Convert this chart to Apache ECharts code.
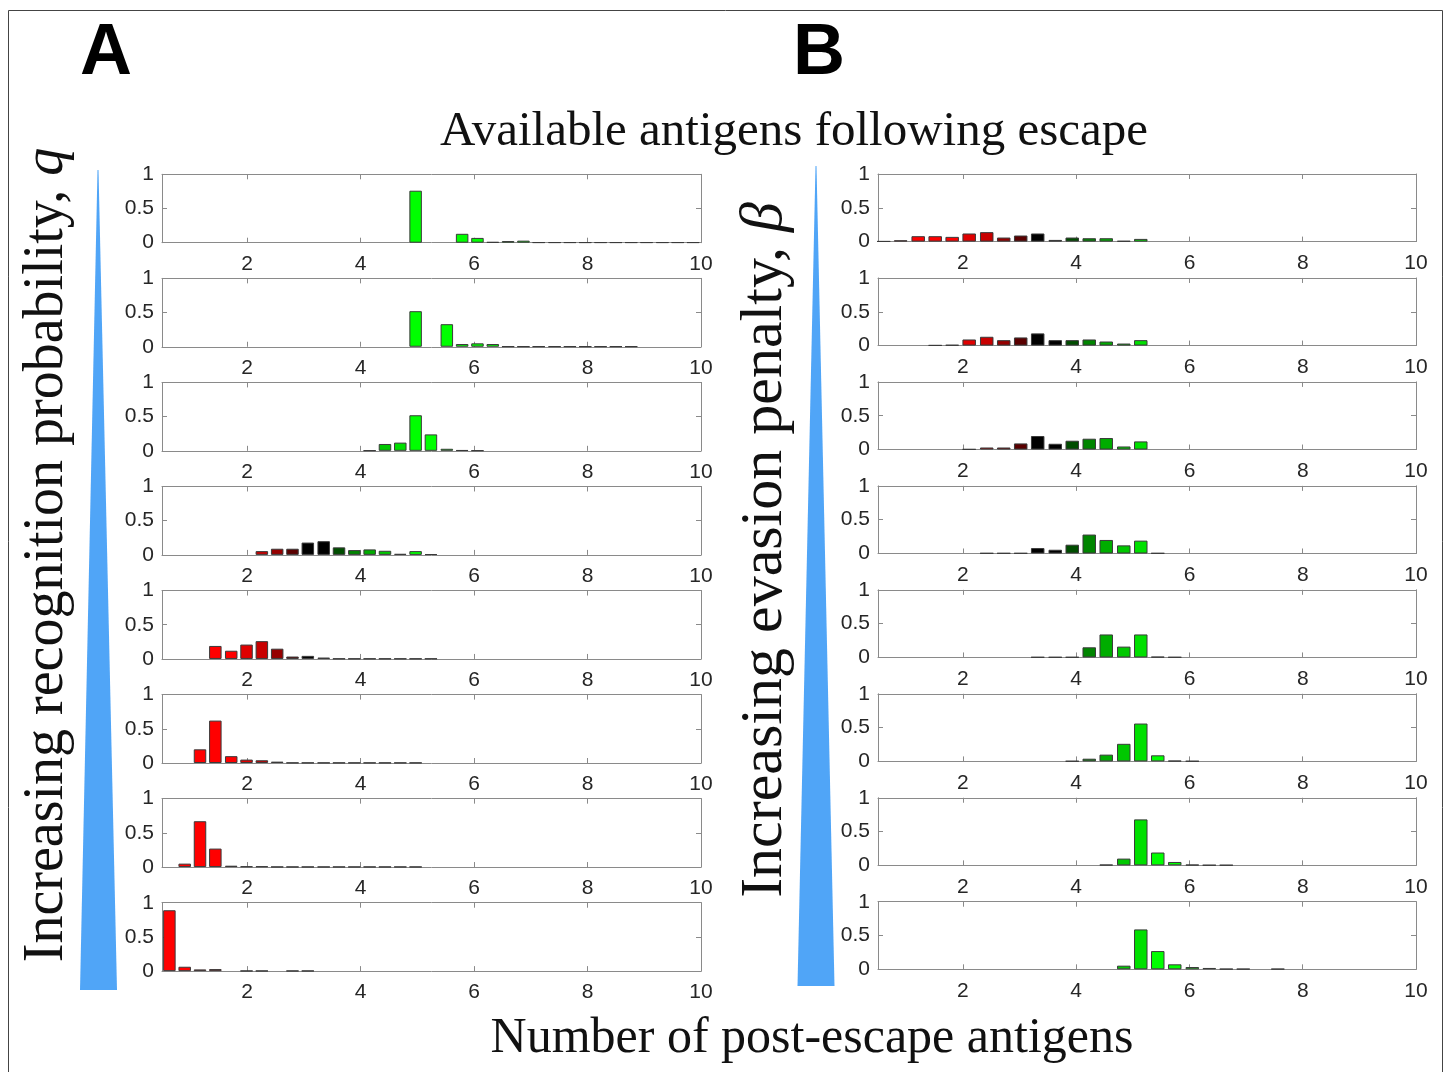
<!DOCTYPE html>
<html><head><meta charset="utf-8">
<script src="https://cdn.jsdelivr.net/npm/echarts@6/dist/echarts.min.js"></script>
<style>html,body{margin:0;padding:0;background:#fff}#c{width:1448px;height:1072px}</style>
</head><body><div id="c"></div>
<script>
// ---- bin centres (x) ----
const leftBins = [0.63,0.90,1.17,1.44,1.72,1.99,2.26,2.53,2.80,3.07,3.35,3.62,3.89,4.16,4.43,4.70,4.97,5.24,5.52,5.79,6.06,6.33,6.60,6.87,7.14,7.42,7.69,7.96,8.23,8.50,8.77,9.04,9.32,9.59,9.86];
const rightBins = [0.60,0.90,1.21,1.51,1.81,2.11,2.42,2.72,3.02,3.32,3.63,3.93,4.23,4.53,4.84,5.14,5.44,5.74,6.05,6.35,6.65,6.95,7.26,7.56];

// ---- panel A (top to bottom) ----
const leftQ1 = [null,null,null,null,null,null,null,null,null,null,null,null,null,null,null,null,0.76,null,null,0.13,0.07,0.01,0.024,0.03,0.004,0.004,0.004,0.004,0.004,0.004,0.004,0.004,0.004,0.004,0.004];
const leftQ2 = [null,null,null,null,null,null,null,null,null,null,null,null,null,null,null,null,0.52,null,0.33,0.04,0.05,0.04,0.004,0.004,0.004,0.004,0.004,0.004,0.004,0.004,0.004,null,null,null,null];
const leftQ3 = [null,null,null,null,null,null,null,null,null,null,null,null,null,0.005,0.10,0.12,0.52,0.24,0.03,0.01,0.005,null,null,null,null,null,null,null,null,null,null,null,null,null,null];
const leftQ4 = [null,null,null,null,null,null,0.055,0.09,0.09,0.18,0.20,0.11,0.07,0.08,0.06,0.015,0.055,0.01,null,null,null,null,null,null,null,null,null,null,null,null,null,null,null,null,null];
const leftQ5 = [null,null,null,0.19,0.12,0.21,0.26,0.15,0.035,0.045,0.02,0.004,0.004,0.004,0.004,0.004,0.004,0.004,null,null,null,null,null,null,null,null,null,null,null,null,null,null,null,null,null];
const leftQ6 = [null,null,0.20,0.62,0.10,0.05,0.04,0.02,0.004,0.004,0.004,0.004,0.004,0.004,0.004,0.004,0.004,null,null,null,null,null,null,null,null,null,null,null,null,null,null,null,null,null,null];
const leftQ7 = [null,0.05,0.67,0.27,0.02,0.01,0.01,0.004,0.004,0.004,0.004,0.004,0.004,0.004,0.004,0.004,0.004,null,null,null,null,null,null,null,null,null,null,null,null,null,null,null,null,null,null];
const leftQ8 = [0.89,0.064,0.025,0.03,null,0.005,0.005,null,0.005,0.005,null,null,null,null,null,null,null,null,null,null,null,null,null,null,null,null,null,null,null,null,null,null,null,null,null];

// ---- panel B (top to bottom) ----
const rightB1 = [0.005,0.02,0.08,0.08,0.07,0.12,0.14,0.06,0.09,0.12,0.025,0.06,0.05,0.05,0.01,0.04,null,null,null,null,null,null,null,null];
const rightB2 = [null,null,null,0.005,0.01,0.09,0.13,0.08,0.12,0.18,0.08,0.08,0.09,0.06,0.03,0.08,null,null,null,null,null,null,null,null];
const rightB3 = [null,null,null,null,null,0.005,0.03,0.03,0.09,0.20,0.085,0.13,0.16,0.17,0.045,0.12,null,null,null,null,null,null,null,null];
const rightB4 = [null,null,null,null,null,null,0.005,0.005,0.005,0.08,0.055,0.13,0.28,0.20,0.12,0.19,0.005,null,null,null,null,null,null,null];
const rightB5 = [null,null,null,null,null,null,null,null,null,0.005,0.005,0.005,0.15,0.34,0.16,0.34,0.01,0.005,null,null,null,null,null,null];
const rightB6 = [null,null,null,null,null,null,null,null,null,null,null,0.005,0.04,0.10,0.26,0.56,0.09,0.01,0.005,null,null,null,null,null];
const rightB7 = [null,null,null,null,null,null,null,null,null,null,null,null,null,0.01,0.10,0.68,0.19,0.05,0.01,0.005,0.005,null,null,null];
const rightB8 = [null,null,null,null,null,null,null,null,null,null,null,null,null,null,0.054,0.59,0.27,0.074,0.034,0.02,0.007,0.007,null,0.007];

const xTicks = [2,4,6,8,10];
const titleText = 'Available antigens following escape';
const xLabelText = 'Number of post-escape antigens';

// colour of a bar depends on its bin index (red -> black -> green)
const binPalette = ['#ff0000','#ff0000','#ff0000','#ff0000','#ff0000','#e00000','#c80000','#960000','#5a0000','#000000','#000000','#004d00','#008500','#00ad00','#00c800','#00e000'];
function colorOf(i){ return i < binPalette.length ? binPalette[i] : '#00ff00'; }

const grids=[], xAxes=[], yAxes=[], series=[];
const AX = '#8a8a8a', TXT = '#262626';
function addPanel(bins, vals, left, top, width, height, barW){
  const gi = grids.length;
  grids.push({left:left, top:top, width:width, height:height, show:false});
  const xi = xAxes.length, yi = yAxes.length;
  xAxes.push({gridIndex:gi, type:'value', min:0.5, max:10, position:'bottom',
    axisLine:{show:true, onZero:false, lineStyle:{color:AX, width:1}},
    axisTick:{show:true, inside:true, length:5, customValues:xTicks, lineStyle:{color:AX}},
    axisLabel:{show:true, customValues:xTicks, margin:11, fontSize:21, color:TXT, fontFamily:'Liberation Sans', showMaxLabel:true},
    splitLine:{show:false}});
  xAxes.push({gridIndex:gi, type:'value', min:0.5, max:10, position:'top',
    axisLine:{show:true, onZero:false, lineStyle:{color:AX, width:1}},
    axisTick:{show:true, inside:true, length:5, customValues:xTicks, lineStyle:{color:AX}},
    axisLabel:{show:false}, splitLine:{show:false}});
  yAxes.push({gridIndex:gi, type:'value', min:0, max:1, interval:0.5, position:'left',
    axisLine:{show:true, onZero:false, lineStyle:{color:AX, width:1}},
    axisTick:{show:true, inside:true, length:5, lineStyle:{color:AX}},
    axisLabel:{show:true, margin:8, fontSize:21, color:TXT, fontFamily:'Liberation Sans'},
    splitLine:{show:false}});
  yAxes.push({gridIndex:gi, type:'value', min:0, max:1, interval:0.5, position:'right',
    axisLine:{show:true, onZero:false, lineStyle:{color:AX, width:1}},
    axisTick:{show:true, inside:true, length:5, lineStyle:{color:AX}},
    axisLabel:{show:false}, splitLine:{show:false}});
  const data = [];
  bins.forEach(function(x,i){
    if (vals[i] !== null && vals[i] !== undefined) {
      data.push({value:[x, vals[i]], itemStyle:{color:colorOf(i)}});
    }
  });
  series.push({type:'bar', xAxisIndex:xi, yAxisIndex:yi, barWidth:barW, data:data,
    itemStyle:{borderColor:'#3a3a3a', borderWidth:1}, silent:true});
}

const leftPanels = [leftQ1,leftQ2,leftQ3,leftQ4,leftQ5,leftQ6,leftQ7,leftQ8];
const rightPanels = [rightB1,rightB2,rightB3,rightB4,rightB5,rightB6,rightB7,rightB8];
leftPanels.forEach(function(v,i){ addPanel(leftBins, v, 162, 174.3 + 104.06*i, 539, 68.4, 12.5); });
rightPanels.forEach(function(v,i){ addPanel(rightBins, v, 878, 174 + 103.96*i, 538, 67.6, 13.5); });

const graphic = [
  {type:'rect', shape:{x:8.5, y:10.5, width:1434, height:1080}, style:{fill:'none', stroke:'#444', lineWidth:1}, z:0},
  {type:'polygon', shape:{points:[[97.5,170],[98.5,170],[117,990],[80,990]]}, style:{fill:'#50a5f7'}},
  {type:'polygon', shape:{points:[[815.5,166],[816.5,166],[834.5,986],[797.5,986]]}, style:{fill:'#50a5f7'}},
  {type:'text', x:80, y:54, style:{text:'A', font:'bold 72px "Liberation Sans"', fill:'#000', align:'left', verticalAlign:'middle'}},
  {type:'text', x:793, y:54, style:{text:'B', font:'bold 72px "Liberation Sans"', fill:'#000', align:'left', verticalAlign:'middle'}},
  {type:'text', x:794, y:132, style:{text:titleText, font:'49px "Liberation Serif"', fill:'#111', align:'center', verticalAlign:'middle'}},
  {type:'text', x:812, y:1039, style:{text:xLabelText, font:'50px "Liberation Serif"', fill:'#111', align:'center', verticalAlign:'middle'}},
  {type:'text', x:47, y:555, rotation:Math.PI/2, style:{
    text:'{n|Increasing recognition probability, }{i|q}', align:'center', verticalAlign:'middle',
    rich:{n:{font:'56px "Liberation Serif"', fill:'#111'}, i:{font:'italic 56px "Liberation Serif"', fill:'#111'}}}},
  {type:'text', x:765, y:550, rotation:Math.PI/2, style:{
    text:'{n|Increasing evasion penalty, }{i|β}', align:'center', verticalAlign:'middle',
    rich:{n:{font:'60px "Liberation Serif"', fill:'#111'}, i:{font:'italic 60px "Liberation Serif"', fill:'#111'}}}}
];

const chart = echarts.init(document.getElementById('c'), null, {renderer:'canvas'});
chart.setOption({
  animation:false,
  backgroundColor:'#fff',
  grid:grids, xAxis:xAxes, yAxis:yAxes, series:series, graphic:graphic
});
</script></body></html>
